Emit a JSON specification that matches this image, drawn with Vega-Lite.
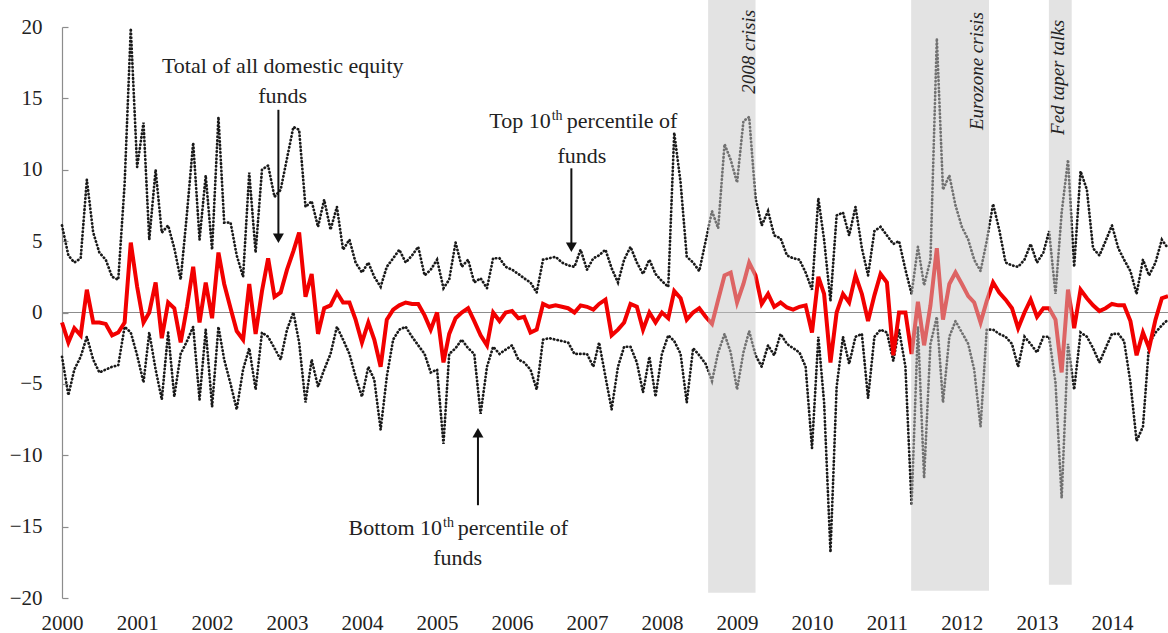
{
  "$schema": "https://vega.github.io/schema/vega-lite/v6.json",
  "width": 1106,
  "height": 571,
  "autosize": {"type": "none"},
  "padding": {"left": 62, "top": 27, "right": 0, "bottom": 35},
  "background": "white",
  "config": {
    "view": {"stroke": null},
    "axis": {"labelFont": "Liberation Serif", "labelFontSize": 21, "labelColor": "#222222", "grid": false, "title": null}
  },
  "datasets": {
    "s": [
      {"d":"2000-01","tot":-0.7,"top":6.1,"bot":-3.1},{"d":"2000-02","tot":-2.1,"top":4.0,"bot":-5.8},{"d":"2000-03","tot":-1.1,"top":3.5,"bot":-4.0},{"d":"2000-04","tot":-1.6,"top":3.8,"bot":-3.1},{"d":"2000-05","tot":1.6,"top":9.3,"bot":-1.7},{"d":"2000-06","tot":-0.7,"top":5.6,"bot":-3.3},{"d":"2000-07","tot":-0.7,"top":4.2,"bot":-4.2},{"d":"2000-08","tot":-0.8,"top":3.7,"bot":-4.0},{"d":"2000-09","tot":-1.6,"top":2.5,"bot":-3.8},{"d":"2000-10","tot":-1.4,"top":2.3,"bot":-3.7},{"d":"2000-11","tot":-0.7,"top":9.0,"bot":-1.0},{"d":"2000-12","tot":4.9,"top":19.9,"bot":-1.4},
      {"d":"2001-01","tot":1.8,"top":10.2,"bot":-3.0},{"d":"2001-02","tot":-0.7,"top":13.3,"bot":-4.9},{"d":"2001-03","tot":0.0,"top":5.1,"bot":-1.4},{"d":"2001-04","tot":2.1,"top":10.0,"bot":-4.0},{"d":"2001-05","tot":-1.8,"top":5.6,"bot":-6.1},{"d":"2001-06","tot":0.7,"top":6.1,"bot":-1.4},{"d":"2001-07","tot":0.3,"top":4.5,"bot":-5.9},{"d":"2001-08","tot":-2.1,"top":2.3,"bot":-2.9},{"d":"2001-09","tot":0.4,"top":7.0,"bot":-2.0},{"d":"2001-10","tot":3.2,"top":11.9,"bot":-1.0},{"d":"2001-11","tot":-0.7,"top":5.1,"bot":-6.1},{"d":"2001-12","tot":2.1,"top":9.6,"bot":-1.2},
      {"d":"2002-01","tot":-0.4,"top":4.4,"bot":-6.6},{"d":"2002-02","tot":4.2,"top":13.7,"bot":-1.0},{"d":"2002-03","tot":2.0,"top":6.3,"bot":-3.3},{"d":"2002-04","tot":0.3,"top":6.3,"bot":-5.0},{"d":"2002-05","tot":-1.3,"top":4.0,"bot":-6.8},{"d":"2002-06","tot":-1.9,"top":2.5,"bot":-4.0},{"d":"2002-07","tot":2.0,"top":9.8,"bot":-2.5},{"d":"2002-08","tot":-1.5,"top":4.2,"bot":-5.4},{"d":"2002-09","tot":1.5,"top":10.0,"bot":-1.4},{"d":"2002-10","tot":3.8,"top":10.3,"bot":-1.7},{"d":"2002-11","tot":1.1,"top":8.1,"bot":-2.5},{"d":"2002-12","tot":1.4,"top":8.6,"bot":-3.3},
      {"d":"2003-01","tot":3.0,"top":10.8,"bot":-1.2},{"d":"2003-02","tot":4.3,"top":13.0,"bot":0.0},{"d":"2003-03","tot":5.6,"top":12.8,"bot":-2.1},{"d":"2003-04","tot":1.1,"top":7.4,"bot":-6.3},{"d":"2003-05","tot":2.7,"top":7.8,"bot":-3.3},{"d":"2003-06","tot":-1.5,"top":6.0,"bot":-5.2},{"d":"2003-07","tot":0.3,"top":7.9,"bot":-4.0},{"d":"2003-08","tot":0.5,"top":5.8,"bot":-2.9},{"d":"2003-09","tot":1.4,"top":7.4,"bot":-1.0},{"d":"2003-10","tot":0.7,"top":4.4,"bot":-1.9},{"d":"2003-11","tot":0.7,"top":5.1,"bot":-2.9},{"d":"2003-12","tot":-0.5,"top":3.5,"bot":-4.5},
      {"d":"2004-01","tot":-2.1,"top":2.8,"bot":-5.9},{"d":"2004-02","tot":-0.7,"top":3.5,"bot":-3.8},{"d":"2004-03","tot":-1.9,"top":2.5,"bot":-4.7},{"d":"2004-04","tot":-3.8,"top":1.8,"bot":-8.2},{"d":"2004-05","tot":-0.5,"top":3.2,"bot":-4.5},{"d":"2004-06","tot":0.2,"top":3.8,"bot":-1.9},{"d":"2004-07","tot":0.5,"top":4.4,"bot":-1.2},{"d":"2004-08","tot":0.7,"top":3.5,"bot":-1.0},{"d":"2004-09","tot":0.6,"top":4.0,"bot":-1.7},{"d":"2004-10","tot":0.6,"top":4.6,"bot":-2.3},{"d":"2004-11","tot":-0.2,"top":2.6,"bot":-2.9},{"d":"2004-12","tot":-1.2,"top":3.0,"bot":-4.2},
      {"d":"2005-01","tot":0.0,"top":3.7,"bot":-4.0},{"d":"2005-02","tot":-3.5,"top":1.7,"bot":-9.2},{"d":"2005-03","tot":-1.5,"top":2.3,"bot":-2.9},{"d":"2005-04","tot":-0.4,"top":4.9,"bot":-2.5},{"d":"2005-05","tot":0.0,"top":3.2,"bot":-1.9},{"d":"2005-06","tot":0.3,"top":3.7,"bot":-2.5},{"d":"2005-07","tot":-0.6,"top":2.1,"bot":-2.9},{"d":"2005-08","tot":-1.6,"top":2.4,"bot":-7.1},{"d":"2005-09","tot":-2.3,"top":1.7,"bot":-3.8},{"d":"2005-10","tot":0.0,"top":3.8,"bot":-2.4},{"d":"2005-11","tot":-0.6,"top":3.8,"bot":-2.9},{"d":"2005-12","tot":0.0,"top":3.2,"bot":-2.6},
      {"d":"2006-01","tot":0.1,"top":3.0,"bot":-2.3},{"d":"2006-02","tot":-0.4,"top":2.7,"bot":-3.3},{"d":"2006-03","tot":-0.3,"top":2.4,"bot":-3.5},{"d":"2006-04","tot":-1.4,"top":2.1,"bot":-4.0},{"d":"2006-05","tot":-1.2,"top":1.4,"bot":-5.4},{"d":"2006-06","tot":0.6,"top":3.7,"bot":-1.9},{"d":"2006-07","tot":0.4,"top":3.8,"bot":-1.8},{"d":"2006-08","tot":0.5,"top":3.9,"bot":-1.9},{"d":"2006-09","tot":0.4,"top":3.5,"bot":-2.0},{"d":"2006-10","tot":0.3,"top":3.3,"bot":-2.1},{"d":"2006-11","tot":0.0,"top":3.2,"bot":-2.9},{"d":"2006-12","tot":0.5,"top":4.4,"bot":-2.9},
      {"d":"2007-01","tot":0.4,"top":3.0,"bot":-2.9},{"d":"2007-02","tot":0.2,"top":3.8,"bot":-3.8},{"d":"2007-03","tot":0.6,"top":4.0,"bot":-2.1},{"d":"2007-04","tot":0.9,"top":4.4,"bot":-4.5},{"d":"2007-05","tot":-1.6,"top":3.1,"bot":-6.8},{"d":"2007-06","tot":-1.2,"top":2.1,"bot":-3.8},{"d":"2007-07","tot":-0.7,"top":3.7,"bot":-2.4},{"d":"2007-08","tot":0.6,"top":4.6,"bot":-2.4},{"d":"2007-09","tot":0.4,"top":3.5,"bot":-3.5},{"d":"2007-10","tot":-1.2,"top":2.7,"bot":-5.6},{"d":"2007-11","tot":0.0,"top":3.7,"bot":-3.1},{"d":"2007-12","tot":-0.7,"top":2.7,"bot":-5.9},
      {"d":"2008-01","tot":0.0,"top":2.2,"bot":-2.9},{"d":"2008-02","tot":-0.4,"top":1.8,"bot":-1.6},{"d":"2008-03","tot":1.5,"top":12.6,"bot":-2.0},{"d":"2008-04","tot":1.0,"top":9.1,"bot":-2.9},{"d":"2008-05","tot":-0.5,"top":3.9,"bot":-6.3},{"d":"2008-06","tot":0.0,"top":3.5,"bot":-2.5},{"d":"2008-07","tot":0.3,"top":2.9,"bot":-3.0},{"d":"2008-08","tot":-0.3,"top":5.0,"bot":-3.6},{"d":"2008-09","tot":-0.8,"top":7.1,"bot":-4.8},{"d":"2008-10","tot":0.9,"top":5.9,"bot":-2.8},{"d":"2008-11","tot":2.6,"top":11.8,"bot":-1.5},{"d":"2008-12","tot":2.8,"top":10.7,"bot":-2.8},
      {"d":"2009-01","tot":0.7,"top":9.1,"bot":-5.4},{"d":"2009-02","tot":2.0,"top":13.4,"bot":-2.8},{"d":"2009-03","tot":3.5,"top":13.7,"bot":-1.3},{"d":"2009-04","tot":2.6,"top":8.0,"bot":-3.0},{"d":"2009-05","tot":0.6,"top":6.1,"bot":-3.8},{"d":"2009-06","tot":1.3,"top":7.1,"bot":-2.3},{"d":"2009-07","tot":0.4,"top":5.4,"bot":-3.0},{"d":"2009-08","tot":0.7,"top":5.2,"bot":-1.5},{"d":"2009-09","tot":0.35,"top":4.0,"bot":-2.2},{"d":"2009-10","tot":0.2,"top":3.8,"bot":-2.5},{"d":"2009-11","tot":0.4,"top":3.7,"bot":-2.8},{"d":"2009-12","tot":0.5,"top":2.8,"bot":-3.8},
      {"d":"2010-01","tot":-1.4,"top":1.6,"bot":-9.5},{"d":"2010-02","tot":2.5,"top":8.0,"bot":-1.7},{"d":"2010-03","tot":1.3,"top":5.1,"bot":-6.3},{"d":"2010-04","tot":-3.5,"top":0.8,"bot":-16.8},{"d":"2010-05","tot":0.0,"top":6.8,"bot":-5.2},{"d":"2010-06","tot":1.3,"top":7.0,"bot":-1.7},{"d":"2010-07","tot":0.7,"top":5.4,"bot":-3.6},{"d":"2010-08","tot":2.6,"top":7.4,"bot":-1.7},{"d":"2010-09","tot":1.3,"top":4.5,"bot":-1.5},{"d":"2010-10","tot":-0.6,"top":2.6,"bot":-6.0},{"d":"2010-11","tot":1.2,"top":5.7,"bot":-1.7},{"d":"2010-12","tot":2.7,"top":6.0,"bot":-1.2},
      {"d":"2011-01","tot":2.1,"top":5.4,"bot":-1.4},{"d":"2011-02","tot":-3.0,"top":4.8,"bot":-3.4},{"d":"2011-03","tot":0.0,"top":5.0,"bot":-1.2},{"d":"2011-04","tot":0.0,"top":3.0,"bot":-3.8},{"d":"2011-05","tot":-2.9,"top":1.3,"bot":-13.5},{"d":"2011-06","tot":0.75,"top":4.6,"bot":-1.0},{"d":"2011-07","tot":-2.3,"top":1.9,"bot":-11.6},{"d":"2011-08","tot":0.5,"top":3.7,"bot":-2.2},{"d":"2011-09","tot":4.5,"top":19.2,"bot":-0.3},{"d":"2011-10","tot":-0.5,"top":8.6,"bot":-6.3},{"d":"2011-11","tot":2.0,"top":9.6,"bot":-1.7},{"d":"2011-12","tot":2.8,"top":7.5,"bot":-0.6},
      {"d":"2012-01","tot":2.0,"top":6.0,"bot":-1.4},{"d":"2012-02","tot":1.15,"top":5.1,"bot":-2.2},{"d":"2012-03","tot":0.7,"top":3.7,"bot":-4.0},{"d":"2012-04","tot":-0.7,"top":2.9,"bot":-8.0},{"d":"2012-05","tot":0.8,"top":5.0,"bot":-1.2},{"d":"2012-06","tot":2.1,"top":7.6,"bot":-1.2},{"d":"2012-07","tot":1.4,"top":5.8,"bot":-1.5},{"d":"2012-08","tot":0.9,"top":3.5,"bot":-1.7},{"d":"2012-09","tot":0.3,"top":3.3,"bot":-2.2},{"d":"2012-10","tot":-1.1,"top":3.2,"bot":-3.8},{"d":"2012-11","tot":0.0,"top":3.7,"bot":-1.7},{"d":"2012-12","tot":0.9,"top":4.8,"bot":-2.2},
      {"d":"2013-01","tot":-0.3,"top":3.5,"bot":-2.8},{"d":"2013-02","tot":0.3,"top":4.2,"bot":-1.7},{"d":"2013-03","tot":0.3,"top":5.7,"bot":-1.7},{"d":"2013-04","tot":-0.5,"top":1.3,"bot":-4.9},{"d":"2013-05","tot":-4.2,"top":7.0,"bot":-13.0},{"d":"2013-06","tot":1.6,"top":10.7,"bot":-2.2},{"d":"2013-07","tot":-1.1,"top":3.2,"bot":-5.4},{"d":"2013-08","tot":1.6,"top":9.9,"bot":-1.4},{"d":"2013-09","tot":1.0,"top":8.6,"bot":-1.7},{"d":"2013-10","tot":0.5,"top":4.5,"bot":-2.5},{"d":"2013-11","tot":0.1,"top":4.0,"bot":-3.5},{"d":"2013-12","tot":0.3,"top":5.0,"bot":-2.5},
      {"d":"2014-01","tot":0.6,"top":6.1,"bot":-1.5},{"d":"2014-02","tot":0.5,"top":4.5,"bot":-1.5},{"d":"2014-03","tot":0.5,"top":3.7,"bot":-2.0},{"d":"2014-04","tot":-0.6,"top":2.9,"bot":-4.9},{"d":"2014-05","tot":-3.0,"top":1.3,"bot":-9.0},{"d":"2014-06","tot":-1.4,"top":3.7,"bot":-8.0},{"d":"2014-07","tot":-2.5,"top":2.6,"bot":-2.2},{"d":"2014-08","tot":-0.5,"top":3.5,"bot":-1.4},{"d":"2014-09","tot":1.0,"top":5.1,"bot":-0.9},{"d":"2014-10","tot":1.15,"top":4.5,"bot":-0.5}
    ],
    "bands": [
      {"label":"2008 crisis","start":"2008-08-13","end":"2009-04-01","top":22,"bottom":-19.63,"lx":"2009-03-27","ly":21.2},
      {"label":"Eurozone crisis","start":"2011-04-29","end":"2012-05-12","top":22,"bottom":-19.49,"lx":"2012-04-15","ly":21.05},
      {"label":"Fed taper talks","start":"2013-02-28","end":"2013-06-19","top":22,"bottom":-19.07,"lx":"2013-05-13","ly":20.5}
    ],
    "notesC": [
      {"d":"2002-12-11","y":16.78,"text":"Total of all domestic equity"},
      {"d":"2002-12-11","y":14.68,"text":"funds"},
      {"d":"2006-12-07","y":10.47,"text":"funds"},
      {"d":"2005-04-11","y":-17.69,"text":"funds"}
    ],
    "notesR": [
      {"d":"2006-07-08","y":12.92,"text":"Top 10"},
      {"d":"2005-01-25","y":-15.59,"text":"Bottom 10"}
    ],
    "notesL": [
      {"d":"2006-09-25","y":12.92,"text":"percentile of"},
      {"d":"2005-04-11","y":-15.59,"text":"percentile of"}
    ],
    "sup": [
      {"d":"2006-07-13","y":13.46,"text":"th"},
      {"d":"2005-01-30","y":-15.06,"text":"th"}
    ],
    "arrows": [
      {"d":"2002-11-20","y1":14.2,"y2":5.2,"hy":5.2,"sh":"triangle-down"},
      {"d":"2006-10-17","y1":10.1,"y2":4.57,"hy":4.57,"sh":"triangle-down"},
      {"d":"2005-07-19","y1":-13.5,"y2":-8.43,"hy":-8.43,"sh":"triangle-up"}
    ],
    "zero": [{"v":0}]
  },
  "encoding": {
    "x": {
      "field": "d", "type": "temporal",
      "scale": {"type": "utc", "domain": [{"year":2000,"month":1,"date":1,"utc":true},{"year":2014,"month":10,"date":1,"utc":true}]},
      "axis": {"format": "%Y", "tickCount": {"interval": "year", "step": 1}, "domain": false, "ticks": false, "tickSize": 0, "labelPadding": 14, "labelBaseline": "top", "labelAlign": "center", "labelFlush": false, "labelOverlap": false}
    }
  },
  "layer": [
    {
      "data": {"name": "zero"},
      "mark": {"type": "rule", "color": "#8c8c8c", "strokeWidth": 1.2},
      "encoding": {
        "x": null,
        "y": {"field": "v", "type": "quantitative", "scale": {"domain": [-20, 20], "nice": false, "zero": false},
          "axis": {"values": [-20,-15,-10,-5,0,5,10,15,20], "domain": true, "domainColor": "#8c8c8c", "domainWidth": 1.2, "ticks": true, "tickSize": -6, "tickColor": "#8c8c8c", "tickWidth": 1.2, "labelPadding": 26, "labelAlign": "right", "labelBaseline": "middle"}}
      }
    },
    {
      "data": {"name": "s"},
      "mark": {"type": "line", "color": "#1a1a1a", "strokeWidth": 2.7, "strokeCap": "round", "strokeDash": [0.4, 3.3]},
      "encoding": {"y": {"field": "top", "type": "quantitative"}}
    },
    {
      "data": {"name": "s"},
      "mark": {"type": "line", "color": "#1a1a1a", "strokeWidth": 2.7, "strokeCap": "round", "strokeDash": [0.4, 3.3]},
      "encoding": {"y": {"field": "bot", "type": "quantitative"}}
    },
    {
      "data": {"name": "s"},
      "mark": {"type": "line", "color": "#f20000", "strokeWidth": 4},
      "encoding": {"y": {"field": "tot", "type": "quantitative"}}
    },
    {
      "data": {"name": "bands"},
      "mark": {"type": "rect", "color": "#c8c8c8", "opacity": 0.5, "clip": false},
      "encoding": {
        "x": {"field": "start", "type": "temporal"},
        "x2": {"field": "end"},
        "y": {"field": "top", "type": "quantitative"},
        "y2": {"field": "bottom"}
      }
    },
    {
      "data": {"name": "bands"},
      "mark": {"type": "text", "angle": 270, "align": "right", "baseline": "alphabetic", "font": "Liberation Serif", "fontStyle": "italic", "fontSize": 19, "color": "#222222", "clip": false},
      "encoding": {
        "x": {"field": "lx", "type": "temporal"},
        "y": {"field": "ly", "type": "quantitative"},
        "text": {"field": "label"}
      }
    },
    {
      "data": {"name": "notesC"},
      "mark": {"type": "text", "align": "center", "baseline": "alphabetic", "font": "Liberation Serif", "fontSize": 22, "color": "#222222"},
      "encoding": {
        "x": {"field": "d", "type": "temporal"},
        "y": {"field": "y", "type": "quantitative"},
        "text": {"field": "text"}
      }
    },
    {
      "data": {"name": "notesR"},
      "mark": {"type": "text", "align": "right", "baseline": "alphabetic", "font": "Liberation Serif", "fontSize": 22, "color": "#222222"},
      "encoding": {
        "x": {"field": "d", "type": "temporal"},
        "y": {"field": "y", "type": "quantitative"},
        "text": {"field": "text"}
      }
    },
    {
      "data": {"name": "notesL"},
      "mark": {"type": "text", "align": "left", "baseline": "alphabetic", "font": "Liberation Serif", "fontSize": 22, "color": "#222222"},
      "encoding": {
        "x": {"field": "d", "type": "temporal"},
        "y": {"field": "y", "type": "quantitative"},
        "text": {"field": "text"}
      }
    },
    {
      "data": {"name": "sup"},
      "mark": {"type": "text", "align": "left", "baseline": "alphabetic", "font": "Liberation Serif", "fontSize": 14, "color": "#222222"},
      "encoding": {
        "x": {"field": "d", "type": "temporal"},
        "y": {"field": "y", "type": "quantitative"},
        "text": {"field": "text"}
      }
    },
    {
      "data": {"name": "arrows"},
      "mark": {"type": "rule", "color": "#111111", "strokeWidth": 2},
      "encoding": {
        "x": {"field": "d", "type": "temporal"},
        "y": {"field": "y1", "type": "quantitative"},
        "y2": {"field": "y2"}
      }
    },
    {
      "data": {"name": "arrows"},
      "mark": {"type": "point", "filled": true, "color": "#111111", "size": 121, "opacity": 1},
      "encoding": {
        "x": {"field": "d", "type": "temporal"},
        "y": {"field": "hy", "type": "quantitative"},
        "shape": {"field": "sh", "type": "nominal", "scale": null}
      }
    }
  ]
}
